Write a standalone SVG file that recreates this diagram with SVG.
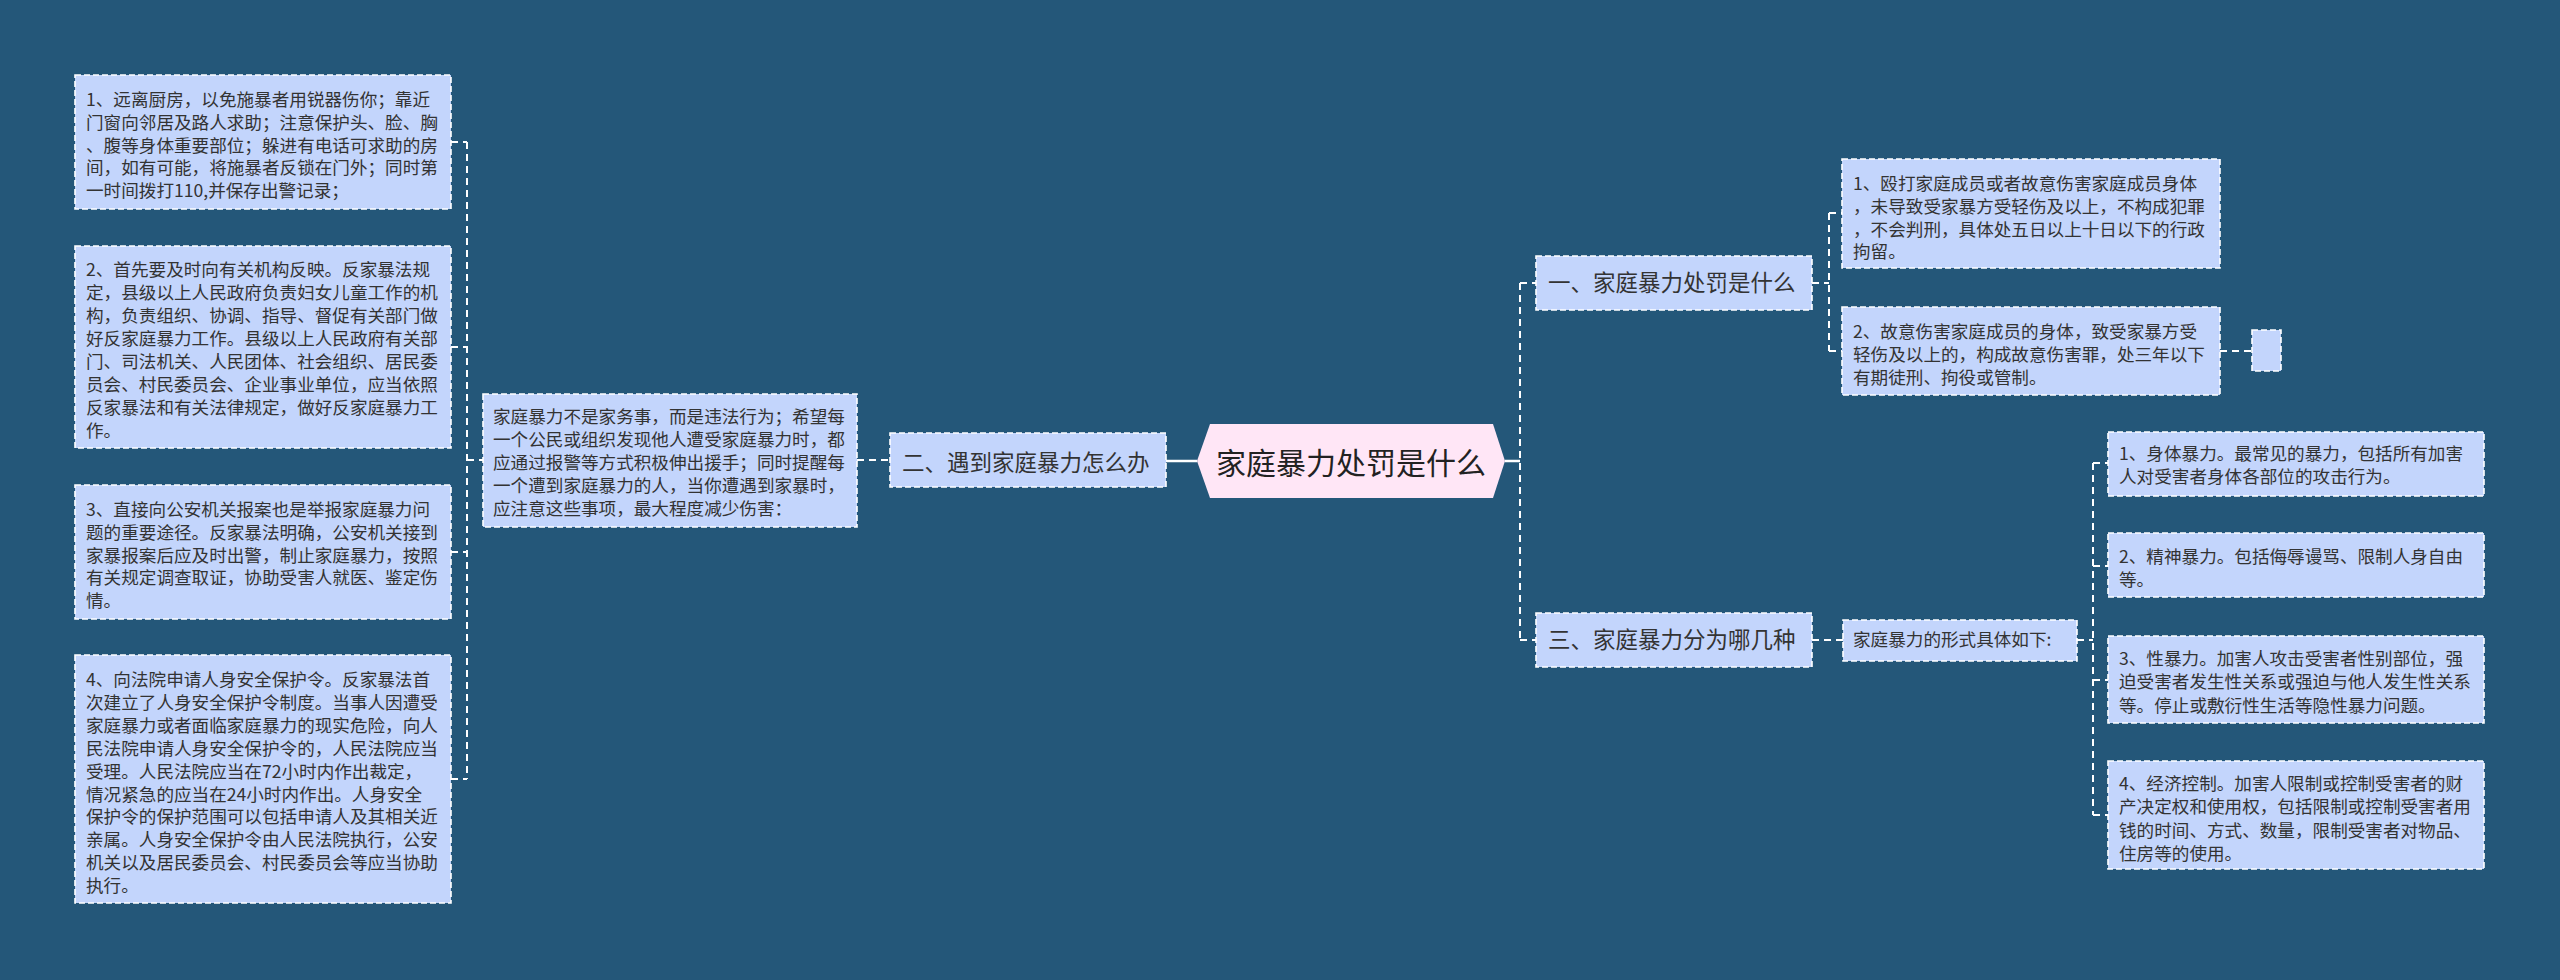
<svg xmlns="http://www.w3.org/2000/svg" width="2560" height="980" viewBox="0 0 2560 980">
<style>
.box{fill:#C3D5FC;stroke:#FFFFFF;stroke-width:1.6;stroke-dasharray:6 3}
.t{font-family:"Noto Sans CJK SC","Liberation Sans",sans-serif;font-size:17.6px;fill:#333333}
.tm{font-family:"Noto Sans CJK SC","Liberation Sans",sans-serif;font-size:22.5px;fill:#333333}
.tc{font-family:"Noto Sans CJK SC","Liberation Sans",sans-serif;font-size:30px;fill:#222222}
.dl{fill:none;stroke:#FFFFFF;stroke-width:2;stroke-dasharray:7 5}
.sl{fill:none;stroke:#FFFFFF;stroke-width:2.5}
</style>
<rect x="0" y="0" width="2560" height="980" fill="#245779"/>
<g id="connectors">
<path class="dl" d="M451 142H467M451 347H467M451 552H467M451 779H467M467 142V779M467 460H483"/>
<path class="dl" d="M857 460H890"/>
<path class="sl" d="M1166 461H1197M1505 461H1520"/>
<path class="dl" d="M1520 283V640M1520 283H1536M1520 640H1536"/>
<path class="dl" d="M1812 283H1829M1829 213V351M1829 213H1842M1829 351H1842"/>
<path class="dl" d="M2220 351H2252"/>
<path class="dl" d="M1812 640H1843"/>
<path class="dl" d="M2077 640H2093M2093 463V815M2093 463H2108M2093 566H2108M2093 680H2108M2093 815H2108"/>
</g>
<g id="center">
<polygon points="1197,461 1210,424 1493,424 1505,461 1493,498 1210,498" fill="#FFE6F6"/>
<text class="tc" x="1351" y="474" text-anchor="middle">家庭暴力处罚是什么</text>
</g>
<g id="n1">
<rect class="box" x="1536" y="256" width="276" height="54"/>
<text class="tm" x="1548" y="291">一、家庭暴力处罚是什么</text>
</g>
<g id="n2">
<rect class="box" x="890" y="433" width="276" height="54"/>
<text class="tm" x="902" y="471">二、遇到家庭暴力怎么办</text>
</g>
<g id="n3">
<rect class="box" x="1536" y="613" width="276" height="54"/>
<text class="tm" x="1548" y="648">三、家庭暴力分为哪几种</text>
</g>
<g id="n2a">
<rect class="box" x="483" y="394" width="374" height="133"/>
<text class="t"><tspan x="493" y="423">家庭暴力不是家务事，而是违法行为；希望每</tspan><tspan x="493" dy="23">一个公民或组织发现他人遭受家庭暴力时，都</tspan><tspan x="493" dy="23">应通过报警等方式积极伸出援手；同时提醒每</tspan><tspan x="493" dy="23">一个遭到家庭暴力的人，当你遭遇到家暴时，</tspan><tspan x="493" dy="23">应注意这些事项，最大程度减少伤害：</tspan></text>
</g>
<g id="l1">
<rect class="box" x="75" y="75" width="376" height="134"/>
<text class="t"><tspan x="86" y="106">1、远离厨房，以免施暴者用锐器伤你；靠近</tspan><tspan x="86" dy="22.8">门窗向邻居及路人求助；注意保护头、脸、胸</tspan><tspan x="86" dy="22.8">、腹等身体重要部位；躲进有电话可求助的房</tspan><tspan x="86" dy="22.8">间，如有可能，将施暴者反锁在门外；同时第</tspan><tspan x="86" dy="22.8">一时间拨打110,并保存出警记录；</tspan></text>
</g>
<g id="l2">
<rect class="box" x="75" y="246" width="376" height="202"/>
<text class="t"><tspan x="86" y="276">2、首先要及时向有关机构反映。反家暴法规</tspan><tspan x="86" dy="23">定，县级以上人民政府负责妇女儿童工作的机</tspan><tspan x="86" dy="23">构，负责组织、协调、指导、督促有关部门做</tspan><tspan x="86" dy="23">好反家庭暴力工作。县级以上人民政府有关部</tspan><tspan x="86" dy="23">门、司法机关、人民团体、社会组织、居民委</tspan><tspan x="86" dy="23">员会、村民委员会、企业事业单位，应当依照</tspan><tspan x="86" dy="23">反家暴法和有关法律规定，做好反家庭暴力工</tspan><tspan x="86" dy="23">作。</tspan></text>
</g>
<g id="l3">
<rect class="box" x="75" y="485" width="376" height="134"/>
<text class="t"><tspan x="86" y="516">3、直接向公安机关报案也是举报家庭暴力问</tspan><tspan x="86" dy="22.8">题的重要途径。反家暴法明确，公安机关接到</tspan><tspan x="86" dy="22.8">家暴报案后应及时出警，制止家庭暴力，按照</tspan><tspan x="86" dy="22.8">有关规定调查取证，协助受害人就医、鉴定伤</tspan><tspan x="86" dy="22.8">情。</tspan></text>
</g>
<g id="l4">
<rect class="box" x="75" y="655" width="376" height="248"/>
<text class="t"><tspan x="86" y="686">4、向法院申请人身安全保护令。反家暴法首</tspan><tspan x="86" dy="22.9">次建立了人身安全保护令制度。当事人因遭受</tspan><tspan x="86" dy="22.9">家庭暴力或者面临家庭暴力的现实危险，向人</tspan><tspan x="86" dy="22.9">民法院申请人身安全保护令的，人民法院应当</tspan><tspan x="86" dy="22.9">受理。人民法院应当在72小时内作出裁定，</tspan><tspan x="86" dy="22.9">情况紧急的应当在24小时内作出。人身安全</tspan><tspan x="86" dy="22.9">保护令的保护范围可以包括申请人及其相关近</tspan><tspan x="86" dy="22.9">亲属。人身安全保护令由人民法院执行，公安</tspan><tspan x="86" dy="22.9">机关以及居民委员会、村民委员会等应当协助</tspan><tspan x="86" dy="22.9">执行。</tspan></text>
</g>
<g id="r1">
<rect class="box" x="1842" y="159" width="378" height="109"/>
<text class="t"><tspan x="1853" y="190">1、殴打家庭成员或者故意伤害家庭成员身体</tspan><tspan x="1853" dy="22.8">，未导致受家暴方受轻伤及以上，不构成犯罪</tspan><tspan x="1853" dy="22.8">，不会判刑，具体处五日以上十日以下的行政</tspan><tspan x="1853" dy="22.8">拘留。</tspan></text>
</g>
<g id="r2">
<rect class="box" x="1842" y="307" width="378" height="88"/>
<text class="t"><tspan x="1853" y="338">2、故意伤害家庭成员的身体，致受家暴方受</tspan><tspan x="1853" dy="22.8">轻伤及以上的，构成故意伤害罪，处三年以下</tspan><tspan x="1853" dy="22.8">有期徒刑、拘役或管制。</tspan></text>
</g>
<g id="r2a">
<rect class="box" x="2252" y="330" width="29" height="41"/>
</g>
<g id="n3a">
<rect class="box" x="1843" y="620" width="234" height="41"/>
<text class="t" x="1853" y="646">家庭暴力的形式具体如下:</text>
</g>
<g id="s1">
<rect class="box" x="2108" y="432" width="376" height="64"/>
<text class="t"><tspan x="2119" y="460">1、身体暴力。最常见的暴力，包括所有加害</tspan><tspan x="2119" dy="23.3">人对受害者身体各部位的攻击行为。</tspan></text>
</g>
<g id="s2">
<rect class="box" x="2108" y="533" width="376" height="64"/>
<text class="t"><tspan x="2119" y="563">2、精神暴力。包括侮辱谩骂、限制人身自由</tspan><tspan x="2119" dy="23.3">等。</tspan></text>
</g>
<g id="s3">
<rect class="box" x="2108" y="636" width="376" height="87"/>
<text class="t"><tspan x="2119" y="665">3、性暴力。加害人攻击受害者性别部位，强</tspan><tspan x="2119" dy="23.3">迫受害者发生性关系或强迫与他人发生性关系</tspan><tspan x="2119" dy="23.3">等。停止或敷衍性生活等隐性暴力问题。</tspan></text>
</g>
<g id="s4">
<rect class="box" x="2108" y="761" width="376" height="108"/>
<text class="t"><tspan x="2119" y="790">4、经济控制。加害人限制或控制受害者的财</tspan><tspan x="2119" dy="23.3">产决定权和使用权，包括限制或控制受害者用</tspan><tspan x="2119" dy="23.3">钱的时间、方式、数量，限制受害者对物品、</tspan><tspan x="2119" dy="23.3">住房等的使用。</tspan></text>
</g>
</svg>
